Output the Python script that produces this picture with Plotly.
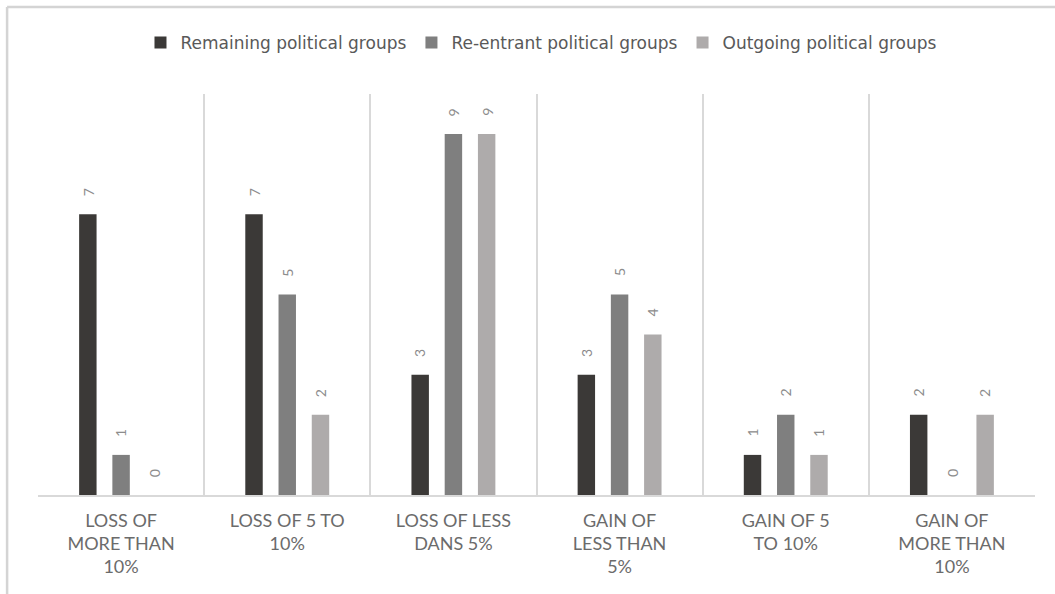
import plotly.graph_objects as go

categories = [
    "LOSS OF<br>MORE THAN<br>10%",
    "LOSS OF 5 TO<br>10%",
    "LOSS OF LESS<br>DANS 5%",
    "GAIN OF<br>LESS THAN<br>5%",
    "GAIN OF 5<br>TO 10%",
    "GAIN OF<br>MORE THAN<br>10%",
]
remaining = [7, 7, 3, 3, 1, 2]
reentrant = [1, 5, 9, 5, 2, 0]
outgoing = [0, 2, 9, 4, 1, 2]

series = [
    ("Remaining political groups", remaining, "#3b3937"),
    ("Re-entrant political groups", reentrant, "#7f7f7f"),
    ("Outgoing political groups", outgoing, "#aeabab"),
]

FONT = "Lato, 'Open Sans', sans-serif"
PLOT_W = 1055 - 38 - 20
GROUP_STEP = 0.2  # bar centre spacing inside a category (category units)

fig = go.Figure()
for i, (name, vals, color) in enumerate(series):
    fig.add_trace(go.Bar(
        x=categories, y=vals, name=name,
        marker=dict(color=color, line=dict(width=0)),
    ))
    # rotated value labels above each bar
    shift = (i - 1) * GROUP_STEP * PLOT_W / len(categories)
    for cat, v in zip(categories, vals):
        fig.add_annotation(
            x=cat, y=v, xref="x", yref="y",
            text=str(v), showarrow=False, textangle=-90,
            xanchor="center", yanchor="middle",
            xshift=shift, yshift=22,
            font=dict(family=FONT, size=14, color="#8c8c8c"),
        )

fig.update_layout(
    width=1055, height=594,
    margin=dict(l=38, r=20, t=94, b=99),
    paper_bgcolor="white", plot_bgcolor="white",
    barmode="group", bargap=0.4, bargroupgap=0.475,
    font=dict(family=FONT, color="#595959"),
    legend=dict(
        orientation="h", x=0.505, xanchor="center", y=1.127, yanchor="middle",
        font=dict(family="'DejaVu Sans', sans-serif", size=17, color="#595959"),
        itemwidth=30, traceorder="normal", bgcolor="rgba(0,0,0,0)",
    ),
    showlegend=True,
)
fig.update_xaxes(
    type="category", tickson="boundaries",
    showgrid=True, gridcolor="#d9d9d9", gridwidth=2,
    showline=True, linecolor="#d9d9d9", linewidth=2,
    ticks="", tickfont=dict(family=FONT, size=18, color="#6b6b6b"),
    ticklabelstandoff=8,
)
fig.update_yaxes(
    range=[0, 10], showgrid=False, zeroline=False, showticklabels=False,
    showline=False,
)

# outer chart frame (top and left edges), placed in pixels from the plot top
fig.add_shape(type="line", xref="paper", yref="paper",
              ysizemode="pixel", yanchor=1,
              x0=-0.031, x1=1.05, y0=87, y1=87,
              line=dict(color="#d4d4d4", width=2.5))
fig.add_shape(type="line", xref="paper", yref="paper",
              ysizemode="pixel", yanchor=1,
              x0=-0.031, x1=-0.031, y0=87, y1=-520,
              line=dict(color="#d4d4d4", width=2.5))

fig.write_html("out.html")
